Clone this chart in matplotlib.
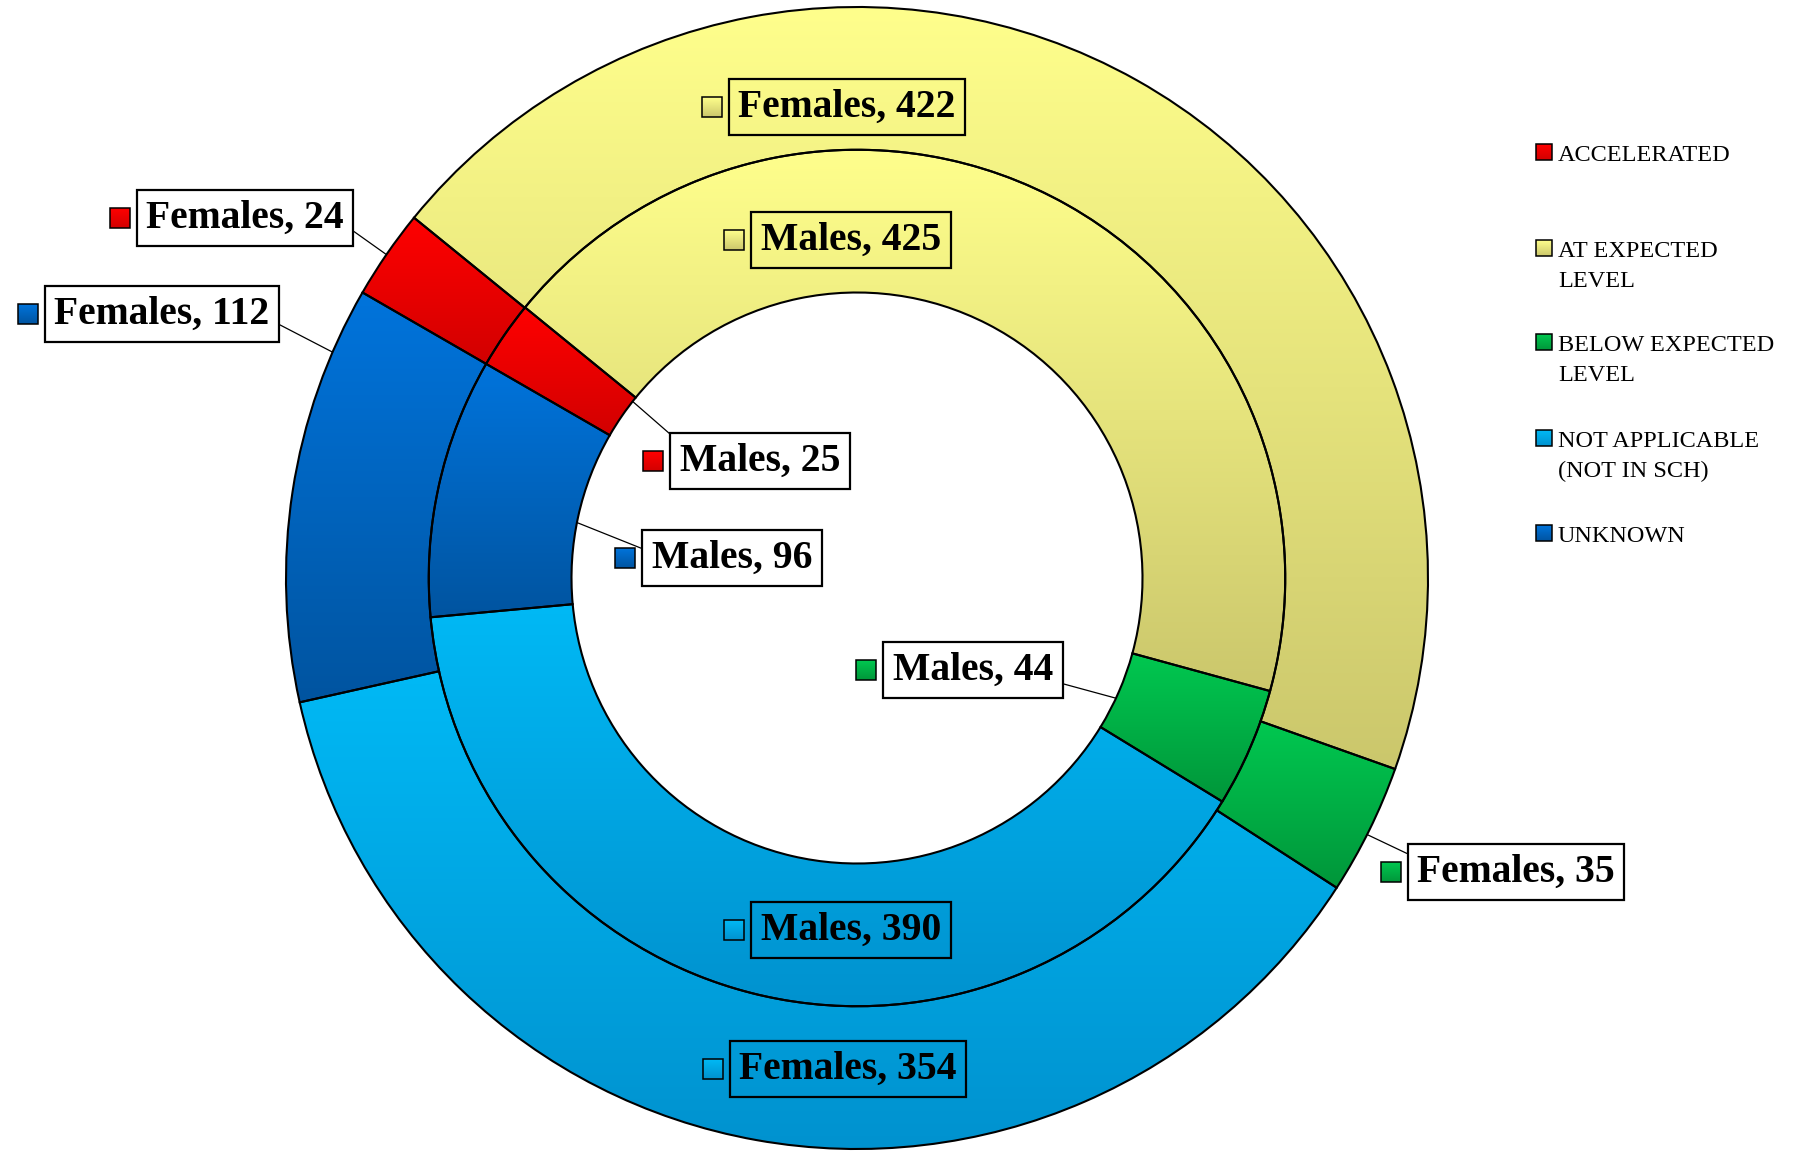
import matplotlib.pyplot as plt
import numpy as np
from matplotlib.colors import LinearSegmentedColormap
from matplotlib.patches import Rectangle

categories = ["ACCELERATED", "AT EXPECTED\nLEVEL", "BELOW EXPECTED\nLEVEL",
              "NOT APPLICABLE\n(NOT IN SCH)", "UNKNOWN"]
females = [24, 422, 35, 354, 112]
males = [25, 425, 44, 390, 96]

# vertical gradient per category: top colour, bottom colour
grad_top = ["#ff0000", "#ffff8c", "#00c850", "#00b9f5", "#0074dc"]
grad_bottom = ["#d20000", "#cbc76c", "#00963a", "#0092cf", "#0054a0"]

W, H = 1795, 1151
CX, CY, R = 857, H - 578, 571
RING = R * 0.25

# label layout: box centre in image pixels, leader (angle deg, radius, relpos) or None
outer_layout = [
    ((245, 218), (145.5, R, (1, 0.33))),
    ((847, 107), None),
    ((1516, 872), (-26.7, R, (0, 0.87))),
    ((848, 1069), None),
    ((162, 314), (156.7, R, (1, 0.35))),
]
inner_layout = [
    ((760, 461), (141.8, R * 0.5, (0, 1))),
    ((851, 240), None),
    ((973, 670), (-24.9, R * 0.5, (1, 0.2))),
    ((851, 930), None),
    ((732, 558), (168.8, R * 0.5, (0, 0.65))),
]

LABEL_FONT = "Liberation Serif"


def gradient_fill(ax, patch, top, bottom, zorder):
    ext = patch.get_patch_transform().transform_path(patch.get_path()).get_extents()
    cmap = LinearSegmentedColormap.from_list("g", [top, bottom])
    grad = np.linspace(0, 1, 256).reshape(-1, 1)
    im = ax.imshow(grad, cmap=cmap, extent=(ext.x0, ext.x1, ext.y0, ext.y1), origin="upper",
                   aspect="auto", interpolation="bilinear", zorder=zorder)
    im.set_clip_path(patch)


def key_square(ax, x, y, size, i, zorder=6):
    sq = Rectangle((x, y), size, size, facecolor="none", edgecolor="black", linewidth=1.1,
                   zorder=zorder + 1)
    ax.add_patch(sq)
    gradient_fill(ax, sq, grad_top[i], grad_bottom[i], zorder)


fig = plt.figure(figsize=(W / 100, H / 100), dpi=100)
ax = fig.add_axes([0, 0, 1, 1])

for values, radius in ((females, R), (males, R - RING)):
    wedges, _ = ax.pie(values, radius=radius, center=(CX, CY), startangle=150, counterclock=False,
                       colors=grad_top,
                       wedgeprops=dict(width=RING, edgecolor="black", linewidth=1.5))
    for i, w in enumerate(wedges):
        w.set_facecolor("none")
        w.set_zorder(3)
        gradient_fill(ax, w, grad_top[i], grad_bottom[i], 2)

ax.set_xlim(0, W)
ax.set_ylim(0, H)
ax.set_aspect("equal")
ax.axis("off")

texts = []
for name, values, layout in (("Females", females, outer_layout), ("Males", males, inner_layout)):
    for i, (v, (pos, leader)) in enumerate(zip(values, layout)):
        bbox = dict(boxstyle="square,pad=0.24", facecolor="none" if leader is None else "white",
                    edgecolor="black", linewidth=1.6)
        label = f"{name}, {v}"
        tx, ty = pos[0], H - pos[1]
        if leader is None:
            t = ax.text(tx, ty, label, ha="center", va="center", fontsize=28.5, fontweight="bold",
                        family=LABEL_FONT, bbox=bbox, zorder=8)
        else:
            ang, rad, relpos = leader
            target = (CX + rad * np.cos(np.radians(ang)), CY + rad * np.sin(np.radians(ang)))
            t = ax.annotate(label, xy=target, xytext=(tx, ty), ha="center", va="center",
                            fontsize=28.5, fontweight="bold", family=LABEL_FONT, bbox=bbox, zorder=8,
                            arrowprops=dict(arrowstyle="-", color="black", lw=0.9,
                                            shrinkA=0, shrinkB=0, relpos=relpos))
        texts.append((t, i))

fig.canvas.draw()
for t, i in texts:
    bb = t.get_bbox_patch().get_window_extent()
    size = 20
    key_square(ax, bb.x0 - 7 - size, (bb.y0 + bb.y1) / 2 - size / 2, size, i)

# legend on the right, one text per line so the key sits on the first line
legend_y = [152, 248, 342, 438, 533]
for i, (cat, y) in enumerate(zip(categories, legend_y)):
    key_square(ax, 1536, H - y - 8, 16, i)
    for k, line in enumerate(cat.split("\n")):
        ax.text(1558, H - y - 9 - 30 * k, line, ha="left", va="baseline", fontsize=17.5,
                family=LABEL_FONT, color="black", zorder=8)

fig.savefig("out.png", dpi=100)
